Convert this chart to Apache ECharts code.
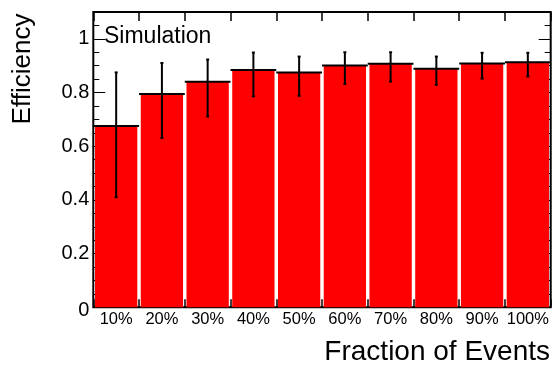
<!DOCTYPE html>
<html>
<head>
<meta charset="utf-8">
<script src="https://cdn.jsdelivr.net/npm/echarts@6/dist/echarts.min.js"></script>
<style>
  html, body { margin: 0; padding: 0; background: #fff; }
  #chart { width: 553px; height: 365px; }
</style>
</head>
<body>
<div id="chart"></div>
<script>
// Efficiency per fraction of events, with asymmetric uncertainty band
const categories = ['10%', '20%', '30%', '40%', '50%', '60%', '70%', '80%', '90%', '100%'];
const efficiency = [0.675, 0.795, 0.840, 0.884, 0.875, 0.901, 0.907, 0.889, 0.908, 0.913];
const errLow     = [0.410, 0.631, 0.711, 0.786, 0.788, 0.832, 0.841, 0.829, 0.852, 0.860];
const errHigh    = [0.875, 0.910, 0.923, 0.949, 0.934, 0.950, 0.950, 0.934, 0.948, 0.948];
const yTickLabels = ['0', '0.2', '0.4', '0.6', '0.8', '1'];

const FONT = '"Liberation Sans", Arial, Helvetica, sans-serif';

const chart = echarts.init(document.getElementById('chart'), null, { renderer: 'canvas' });

const errData = categories.map((c, i) => [i, efficiency[i], errLow[i], errHigh[i]]);

function majorAxis(position, showLabels) {
  return {
    type: 'value', position: position, min: 0, max: 1.1, interval: 0.2,
    axisLine: { show: false, onZero: false },
    splitLine: { show: false },
    axisTick: { show: true, inside: true, length: 12, lineStyle: { color: '#000', width: 1 } },
    axisLabel: {
      show: showLabels, margin: 4, color: '#000', fontFamily: FONT, fontSize: 20,
      showMaxLabel: false,
      formatter: function (v) {
        const idx = Math.round(v / 0.2);
        if (Math.abs(v - idx * 0.2) > 1e-6 || idx >= yTickLabels.length) return '';
        return idx === 0 ? '{z|' + yTickLabels[0] + '}' : yTickLabels[idx];
      },
      rich: { z: { fontFamily: FONT, fontSize: 20, color: '#000', padding: [6, 0, 0, 0] } }
    }
  };
}
function minorAxis(position) {
  return {
    type: 'value', position: position, min: 0, max: 1.1, interval: 0.05,
    axisLine: { show: false, onZero: false },
    splitLine: { show: false },
    axisLabel: { show: false },
    axisTick: { show: true, inside: true, length: 6, lineStyle: { color: '#000', width: 1 } }
  };
}

chart.setOption({
  animation: false,
  backgroundColor: '#fff',
  grid: {
    left: 93.3, right: 2.3, top: 12, bottom: 57.7,
    show: true, borderColor: '#000', borderWidth: 2, backgroundColor: 'transparent'
  },
  xAxis: [
    {
      type: 'category', data: categories, position: 'bottom', boundaryGap: true,
      axisLine: { show: false, onZero: false },
      axisTick: { show: true, inside: true, interval: 0, length: 8, lineStyle: { color: '#000', width: 1.5 } },
      axisLabel: { interval: 0, color: '#000', fontFamily: FONT, fontSize: 16.5, margin: 4 }
    },
    {
      // bin-edge ticks along the upper frame
      type: 'value', position: 'top', min: 0, max: categories.length, interval: 1,
      axisLine: { show: false, onZero: false },
      splitLine: { show: false },
      axisLabel: { show: false },
      axisTick: { show: true, inside: true, length: 9, lineStyle: { color: '#000', width: 1.5 } }
    }
  ],
  yAxis: [majorAxis('left', true), majorAxis('right', false), minorAxis('left'), minorAxis('right')],
  series: [
    {
      type: 'bar', data: efficiency, xAxisIndex: 0, yAxisIndex: 0,
      barWidth: '92.5%', itemStyle: { color: '#ff0000' }, z: 2
    },
    {
      type: 'custom', data: errData, xAxisIndex: 0, yAxisIndex: 0, z: 5,
      encode: { x: 0, y: [1, 2, 3] },
      renderItem: function (params, api) {
        const i = api.value(0);
        const mid = api.coord([i, api.value(1)]);
        const lo = api.coord([i, api.value(2)]);
        const hi = api.coord([i, api.value(3)]);
        const w = api.size([1, 0])[0];
        const st = { stroke: '#000', lineWidth: 2 };
        return {
          type: 'group',
          children: [
            { type: 'line', shape: { x1: mid[0] - w / 2, y1: mid[1], x2: mid[0] + w / 2, y2: mid[1] }, style: st },
            { type: 'line', shape: { x1: lo[0], y1: lo[1], x2: hi[0], y2: hi[1] }, style: st },
            { type: 'line', shape: { x1: lo[0] - 1.5, y1: lo[1], x2: lo[0] + 1.5, y2: lo[1] }, style: st },
            { type: 'line', shape: { x1: hi[0] - 1.5, y1: hi[1], x2: hi[0] + 1.5, y2: hi[1] }, style: st }
          ]
        };
      }
    }
  ],
  graphic: [
    {
      type: 'text', left: 104, top: 25, z: 10,
      style: { text: 'Simulation', fontFamily: FONT, fontSize: 23, fill: '#000' }
    },
    {
      type: 'text', x: 23, y: 69, rotation: Math.PI / 2, z: 10,
      style: { text: 'Efficiency', fontFamily: FONT, fontSize: 26, fill: '#000', align: 'center', verticalAlign: 'middle' }
    },
    {
      type: 'text', x: 550, y: 352, z: 10,
      style: { text: 'Fraction of Events', fontFamily: FONT, fontSize: 28, fill: '#000', align: 'right', verticalAlign: 'middle' }
    }
  ]
});
</script>
</body>
</html>
